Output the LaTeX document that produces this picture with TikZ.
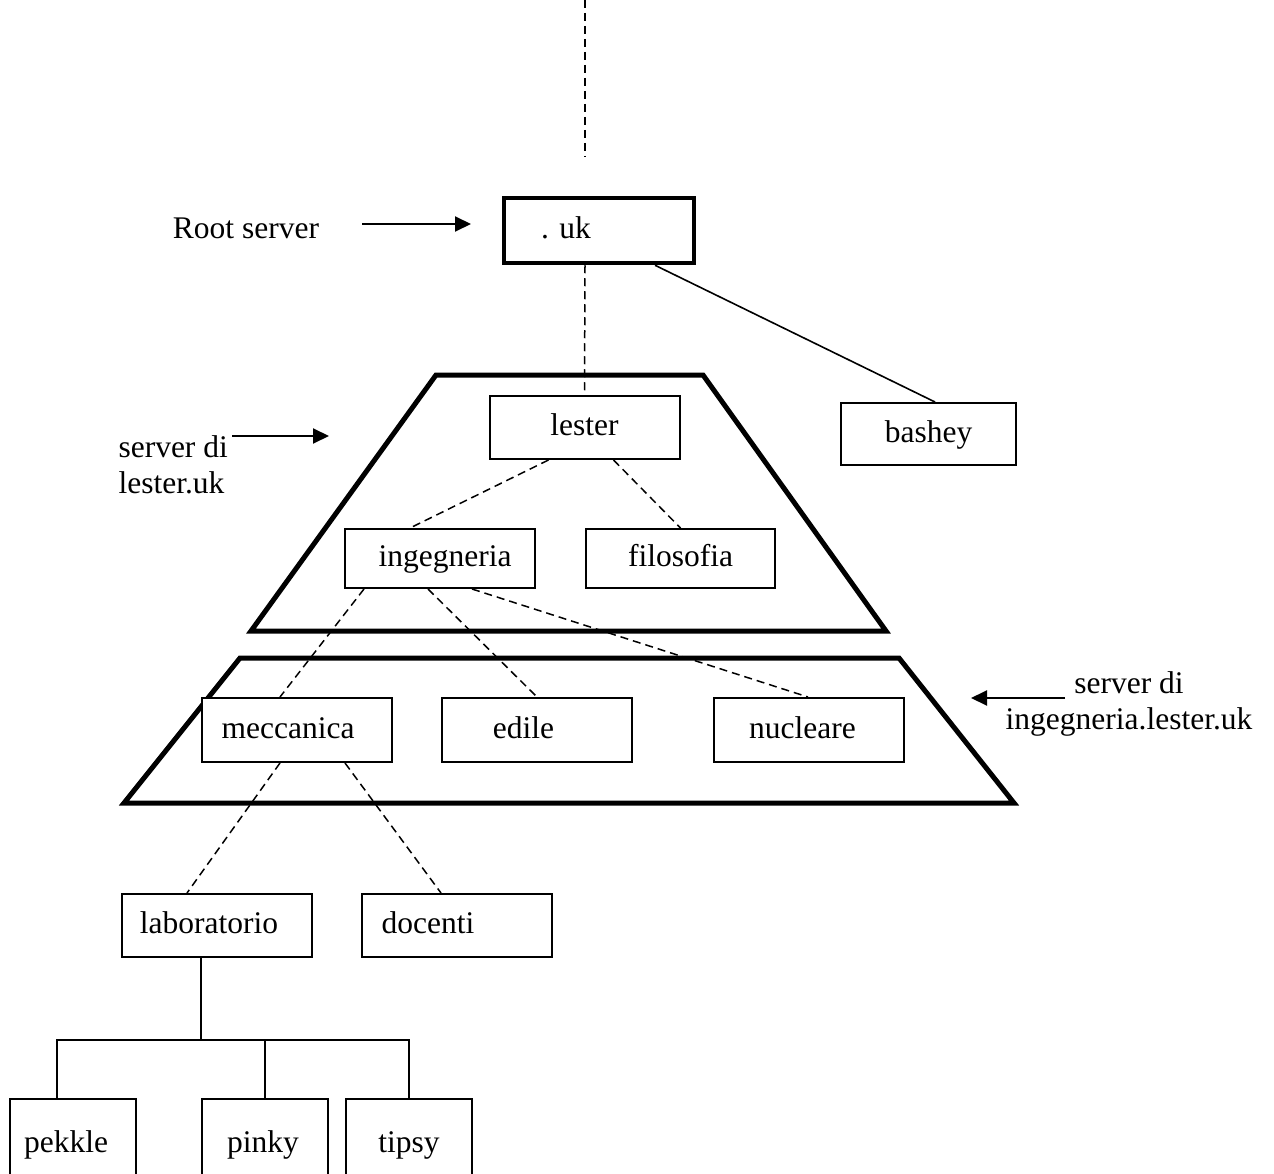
\documentclass[tikz,border=0pt]{standalone}
\usepackage{fontspec}
\setmainfont{Liberation Serif}
\usetikzlibrary{arrows.meta}
% shift a label sideways inside its box without changing the box
\newcommand\txtshift[2]{\hspace*{-#1}#2\hspace*{#1}}
\begin{document}
\begin{tikzpicture}[x=1pt,y=-1pt,
  every node/.style={font=\fontsize{31.5}{36}\selectfont},
  box/.style={draw, line width=2pt, fill=white, minimum width=190pt,
    minimum height=63pt, inner sep=0pt, text height=22pt, text depth=6pt},
  smallbox/.style={box, minimum width=126pt, minimum height=90pt},
  zone/.style={line width=5pt, line join=miter},
  link/.style={line width=1.5pt, dash pattern=on 8pt off 5pt},
  tree/.style={line width=1.6pt},
  pointer/.style={line width=2pt, -{Triangle[length=16pt,width=15pt]}}]
\useasboundingbox (0,0) rectangle (1274,1174);
\clip (0,0) rectangle (1274,1174);

% server zones
\draw[zone] (436,375) -- (703,375) -- (886,631) -- (251,631) -- cycle;
\draw[zone] (240,658) -- (899,658) -- (1014,803) -- (124,803) -- cycle;

% top of the hierarchy
\coordinate (top) at (585,0);
\coordinate (topend) at (585,157);
\draw[link] (top) -- (topend);

% side labels and arrows
\node (rootlbl) at (246,228) {Root server};
\coordinate (ra) at (362,224);
\coordinate (rb) at (471,224);
\draw[pointer] (ra) -- (rb);

\node[align=left, anchor=west] (lestlbl) at (115,465) {server di\\lester.uk};
\coordinate (la) at (232,436);
\coordinate (lb) at (329,436);
\draw[pointer] (la) -- (lb);

\node[align=center] (inglbl) at (1129,704) {server di\\ingegneria.lester.uk};
\coordinate (ia) at (1065,698);
\coordinate (ib) at (971,698);
\draw[pointer] (ia) -- (ib);

% boxes
\node[box, line width=4.5pt, minimum height=65pt] (uk) at (599,230.5) {\txtshift{33pt}{. uk}};
\node[box] (lester) at (584.5,427.5) {lester};
\node[box, minimum width=175pt, minimum height=62pt] (bashey) at (928.5,434) {bashey};
\node[box, minimum height=59pt] (ing) at (440,558.5) {\txtshift{-5pt}{ingegneria}};
\node[box, minimum width=189pt, minimum height=59pt] (fil) at (680.5,558.5) {filosofia};
\node[box, minimum height=64pt] (mecc) at (297,730) {\txtshift{9pt}{meccanica}};
\node[box, minimum height=64pt] (edile) at (537,730) {\txtshift{13.5pt}{edile}};
\node[box, minimum height=64pt] (nucl) at (809,730) {\txtshift{6.5pt}{nucleare}};
\node[box] (lab) at (217,925.5) {\txtshift{8pt}{laboratorio}};
\node[box] (doc) at (457,925.5) {\txtshift{29pt}{docenti}};
\node[smallbox] (pek) at (73,1144) {\txtshift{7pt}{pekkle}};
\node[smallbox] (pin) at (265,1144) {\txtshift{2pt}{pinky}};
\node[smallbox] (tip) at (409,1144) {tipsy};

% connectors
\draw[link] ([xshift=-14pt]uk.south) -- (lester.north);
\draw[line width=1.6pt] ([xshift=56pt]uk.south) -- ([xshift=6.5pt]bashey.north);
\draw[link] ([xshift=-36pt]lester.south) -- ([xshift=-30pt]ing.north);
\draw[link] ([xshift=29pt]lester.south) -- (fil.north);
\draw[link] ([xshift=-76pt]ing.south) -- ([xshift=-17pt]mecc.north);
\draw[link] ([xshift=-12pt]ing.south) -- (edile.north);
\draw[link] ([xshift=32pt]ing.south) -- ([xshift=-1pt]nucl.north);
\draw[link] ([xshift=-17pt]mecc.south) -- ([xshift=-30pt]lab.north);
\draw[link] ([xshift=48pt]mecc.south) -- ([xshift=-16pt]doc.north);

% host tree under laboratorio
\coordinate (jn) at (201,1040);
\draw[tree] ([xshift=-16pt]lab.south) -- (jn);
\draw[tree] ([xshift=-16pt]pek.north) |- (jn) -| (tip.north);
\draw[tree] (pin.north) -- (pin.north |- jn);
\end{tikzpicture}
\end{document}
